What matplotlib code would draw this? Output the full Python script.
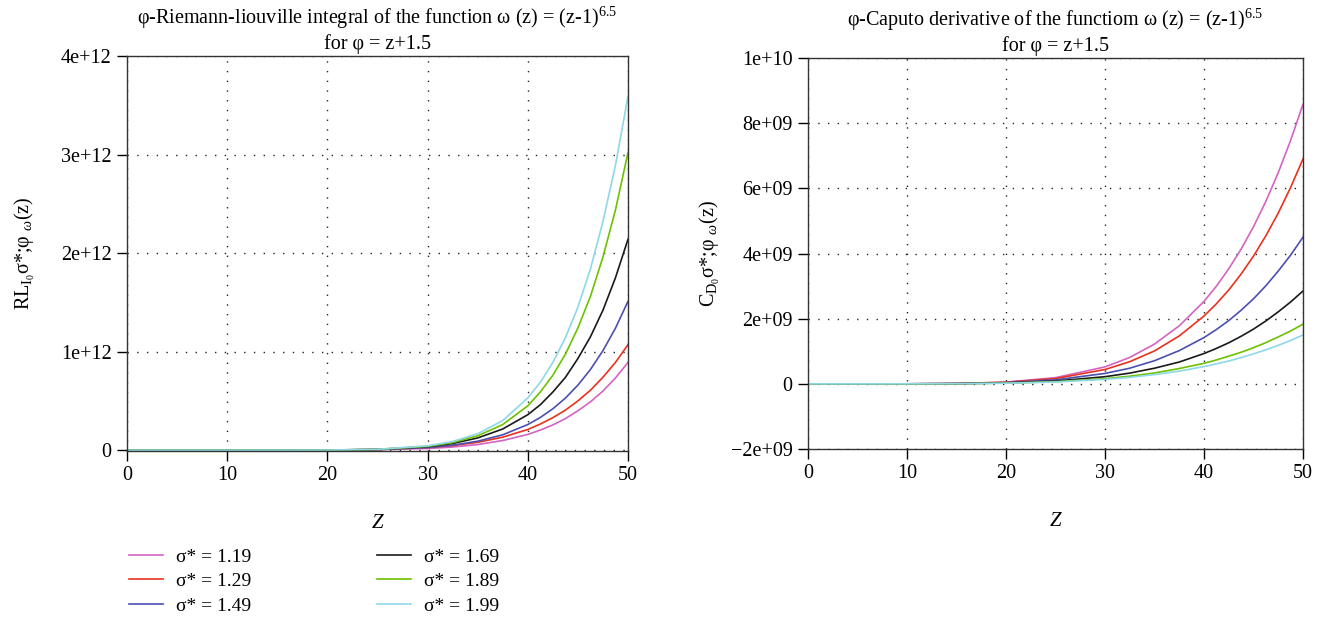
import matplotlib
matplotlib.use("Agg")
import matplotlib.pyplot as plt
from matplotlib.ticker import FixedLocator, FuncFormatter

plt.rcParams['font.family'] = ['Liberation Serif', 'DejaVu Serif']
plt.rcParams['mathtext.fontset'] = 'custom'
plt.rcParams['mathtext.rm'] = 'Liberation Serif'
plt.rcParams['mathtext.it'] = 'Liberation Serif:italic'

z = [0, 5, 10, 15, 20, 25, 30, 32.5, 35, 37.5, 40, 41.25, 42.5, 43.75, 45, 46.25, 47.5, 48.75, 50]

sigmas = ["1.19", "1.29", "1.49", "1.69", "1.89", "1.99"]
colors = ["#d563c3", "#e8321e", "#4b50b0", "#1a1a1a", "#6cc100", "#8ed8e8"]

# phi-Riemann-Liouville integral, values in 1e12
rl_119 = [0, 0, 0, 0, 0.0008, 0.0045, 0.017, 0.032, 0.057, 0.098, 0.16, 0.204, 0.256, 0.320,
          0.40, 0.490, 0.60, 0.733, 0.89]
rl_129 = [0, 0, 0, 0, 0.0013, 0.0068, 0.026, 0.047, 0.080, 0.132, 0.21, 0.265, 0.33, 0.406,
          0.50, 0.608, 0.74, 0.891, 1.07]
rl_149 = [0, 0, 0, 0, 0.001, 0.006, 0.027, 0.050, 0.091, 0.156, 0.26, 0.332, 0.42, 0.528,
          0.66, 0.818, 1.01, 1.238, 1.51]
rl_169 = [0, 0, 0, 0, 0.0013, 0.008, 0.036, 0.068, 0.124, 0.215, 0.36, 0.461, 0.59, 0.738,
          0.93, 1.150, 1.42, 1.750, 2.14]
rl_189 = [0, 0, 0, 0, 0.001, 0.008, 0.039, 0.077, 0.146, 0.26, 0.45, 0.590, 0.76, 0.973,
          1.24, 1.560, 1.96, 2.438, 3.02]
rl_199 = [0, 0, 0, 0.0001, 0.0013, 0.009, 0.044, 0.088, 0.167, 0.30, 0.53, 0.688, 0.89, 1.140,
          1.45, 1.839, 2.32, 2.891, 3.59]

# phi-Caputo derivative, values in 1e9
cd_119 = [0, 0, 0.001, 0.011, 0.054, 0.19, 0.52, 0.81, 1.22, 1.78, 2.53, 2.995, 3.53, 4.135,
          4.82, 5.60, 6.48, 7.47, 8.58]
cd_129 = [0, 0, 0.001, 0.010, 0.048, 0.163, 0.44, 0.68, 1.01, 1.47, 2.08, 2.456, 2.88, 3.369,
          3.92, 4.543, 5.24, 6.026, 6.90]
cd_149 = [0, 0, 0.001, 0.008, 0.038, 0.123, 0.32, 0.48, 0.71, 1.02, 1.42, 1.667, 1.94, 2.259,
          2.61, 3.010, 3.46, 3.950, 4.50]
cd_169 = [0, 0, 0.001, 0.006, 0.028, 0.086, 0.22, 0.33, 0.48, 0.67, 0.93, 1.087, 1.26, 1.460,
          1.68, 1.930, 2.21, 2.512, 2.85]
cd_189 = [0, 0, 0.001, 0.005, 0.022, 0.066, 0.16, 0.235, 0.335, 0.47, 0.63, 0.733, 0.85, 0.970,
          1.11, 1.264, 1.44, 1.623, 1.83]
cd_199 = [0, 0, 0.001, 0.005, 0.020, 0.058, 0.138, 0.20, 0.285, 0.39, 0.53, 0.613, 0.70, 0.806,
          0.92, 1.044, 1.18, 1.334, 1.50]

rl_data = [rl_119, rl_129, rl_149, rl_169, rl_189, rl_199]
cd_data = [cd_119, cd_129, cd_149, cd_169, cd_189, cd_199]


def sci_label(v, pos):
    if v == 0:
        return "0"
    return f"{v:.0e}".replace("-", "\u2212")


def style_axes(ax, yticks, ylim):
    ax.set_xlim(0, 50)
    ax.set_ylim(*ylim)
    ax.xaxis.set_major_locator(FixedLocator([0, 10, 20, 30, 40, 50]))
    ax.yaxis.set_major_locator(FixedLocator(yticks))
    ax.yaxis.set_major_formatter(FuncFormatter(sci_label))
    ax.tick_params(direction="out", length=7, width=1, labelsize=14.5,
                   top=False, right=False, pad=4)
    for s in ax.spines.values():
        s.set_linewidth(1.0)
        s.set_color("#333333")
    ax.grid(True, color="#222222", linestyle=(0, (1, 6)), linewidth=1.0)
    ax.set_xlabel("Z", fontsize=15, style="italic", labelpad=21)


fig = plt.figure(figsize=(13.35, 6.26), dpi=100)
ax1 = fig.add_axes([0.0951, 0.2796, 0.3753, 0.6309])
ax2 = fig.add_axes([0.6052, 0.2827, 0.3708, 0.6246])

for vals, c, s in zip(rl_data, colors, sigmas):
    ax1.plot(z, [v * 1e12 for v in vals], color=c, lw=1.2, label=f"σ* = {s}")
for vals, c in zip(cd_data, colors):
    ax2.plot(z, [v * 1e9 for v in vals], color=c, lw=1.2)

style_axes(ax1, [0, 1e12, 2e12, 3e12, 4e12], (-0.008e12, 4e12))
style_axes(ax2, [-2e9, 0, 2e9, 4e9, 6e9, 8e9, 1e10], (-2e9, 1e10))

ax1.set_title("φ-Riemann-liouville integral of the function ω (z) = (z-1)$^{6.5}$\nfor φ = z+1.5",
              fontsize=14.5, pad=5, linespacing=1.2)
ax2.set_title("φ-Caputo derivative of the functiom ω (z) = (z-1)$^{6.5}$\nfor φ = z+1.5",
              fontsize=14.5, pad=5, linespacing=1.2)

ax1.set_ylabel(r"RL$_{\mathrm{I}_0}$σ*;φ $_{ω}$(z)", fontsize=14.5, labelpad=17)
ax2.set_ylabel(r"C$_{\mathrm{D}_0}$σ*;φ $_{ω}$(z)", fontsize=14.5, labelpad=6)

fig.legend(loc="upper left", bbox_to_anchor=(0.0905, 0.137), ncol=2, frameon=False,
           fontsize=14, handlelength=1.75, handletextpad=0.67, columnspacing=6.5,
           labelspacing=0.36, borderaxespad=0)

fig.savefig("out.png", dpi=100)
